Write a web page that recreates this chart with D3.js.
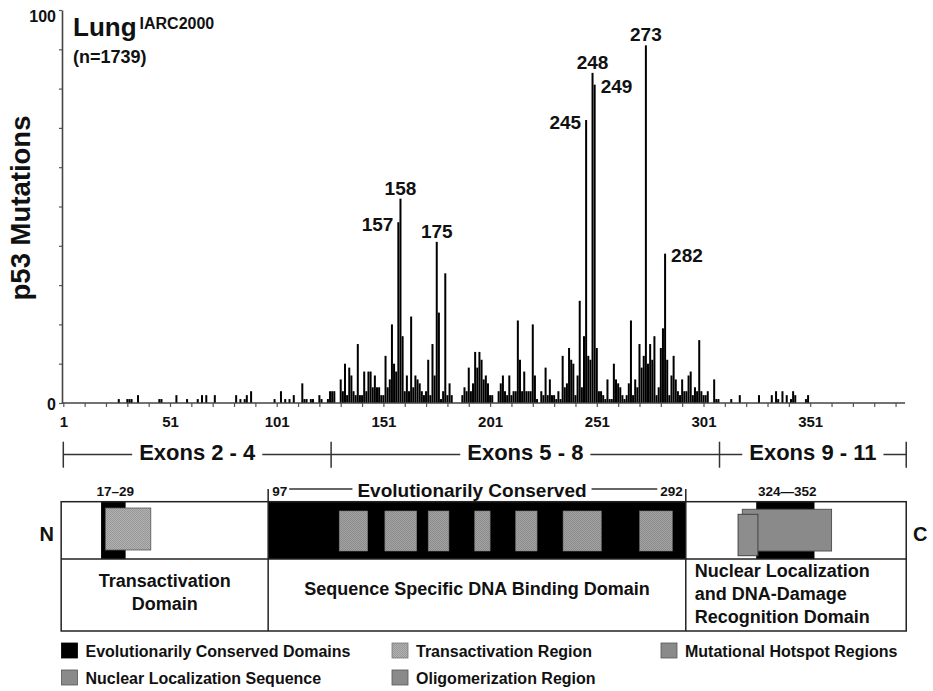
<!DOCTYPE html>
<html><head><meta charset="utf-8">
<script src="https://cdn.jsdelivr.net/npm/d3@7"></script>
<style>
body{margin:0;background:#fff}
svg{display:block}
text{font-family:"Liberation Sans",Arial,Helvetica,sans-serif;font-weight:bold;fill:#111}
</style>
</head><body>
<svg id="c" width="933" height="691"></svg>
<script>
// ---- data ----
const residues = [
  26,30,31,32,35,45,46,53,58,63,
  65,67,71,81,83,85,86,88,99,102,
  104,106,108,112,113,114,116,117,120,121,
  124,125,126,127,130,131,132,133,134,135,
  136,137,138,139,140,141,142,143,144,145,
  146,147,148,149,150,151,152,153,154,155,
  156,157,158,159,160,161,162,163,164,165,
  166,167,168,169,170,171,172,173,174,175,
  176,177,178,179,180,181,182,187,188,189,
  190,191,192,193,194,195,196,197,198,199,
  200,201,204,205,206,207,208,209,210,211,
  212,213,214,215,216,217,218,219,220,221,
  222,224,225,226,227,228,229,230,231,232,
  233,234,235,236,237,238,239,240,241,242,
  243,244,245,246,247,248,249,250,251,252,
  253,254,255,256,257,258,259,260,261,262,
  263,264,265,266,267,268,269,270,271,272,
  273,274,275,276,277,278,279,280,281,282,
  283,284,285,286,287,288,289,290,291,292,
  293,294,295,296,297,298,299,300,301,302,
  305,306,307,313,317,326,332,334,335,337,
  339,341,342,343,348,349
];
const mutations = [
  1,1,1,1,2,1,1,2,1,1,
  2,2,2,2,1,1,2,3,1,3,
  1,1,2,5,1,1,1,1,2,1,
  1,3,3,3,6,3,10,2,9,7,
  3,2,15,2,2,8,3,8,8,4,
  7,4,4,2,2,12,4,6,20,10,
  8,46,52,17,3,7,3,22,4,7,
  6,5,3,2,3,11,2,15,7,41,
  23,1,3,33,2,5,2,2,4,3,
  9,3,5,13,9,13,11,6,7,5,
  2,2,3,5,7,3,2,7,2,3,
  3,21,11,3,8,3,3,3,20,7,
  1,3,2,9,2,6,2,2,1,3,
  1,12,4,5,14,11,10,2,7,26,
  4,17,72,12,11,84,81,14,3,3,
  2,1,6,1,1,10,6,5,4,2,
  1,2,5,21,2,6,4,15,9,12,
  91,10,15,11,17,2,4,14,19,38,
  11,2,7,12,6,3,2,6,3,3,
  7,8,2,4,3,16,3,2,2,3,
  6,1,1,1,2,2,2,3,1,3,
  2,1,3,2,1,2
];
const peakLabels = [157,158,175,245,248,249,273,282];
const peakSides  = ["left","center","center","left","center","right","center","right"];
const xTickValues = d3.range(0, 391, 10);
const xTickLabels = ["1","51","101","151","201","251","301","351"];
const yTickLabels = ["0","100"];

const exonLabels = ["Exons 2 - 4","Exons 5 - 8","Exons 9 - 11"];
const exonBounds = [0, 125.5, 307.5, 395];

const domainBounds = [-1, 96, 291.7, 395];
const domainTexts = [["Transactivation","Domain"],["Sequence Specific DNA Binding Domain"],["Nuclear Localization","and DNA-Damage","Recognition Domain"]];

const conservedRegions = [[17.7,29.2],[96,291.7],[324.7,352]];
const conservedLabels = ["17\u201329","","324\u2014352"];
const transactivationRegions = [[19.7,41]];
const hotspotRegions = [[129.3,142.6],[150.7,165.6],[171,180.7],[192.8,200],[212,222],[234.2,252.1],[270.1,285.4]];
const oligomerizationRegions = [[318.2,360]];
const nlsRegions = [[316.2,325.5]];

const legendLabels = ["Evolutionarily Conserved Domains","Transactivation Region","Mutational Hotspot Regions","Nuclear Localization Sequence","Oligomerization Region"];

// ---- drawing ----
const svg = d3.select("#c");
svg.append("rect").attr("width",933).attr("height",691).attr("fill","#fff");

const defs = svg.append("defs");
function stipple(id, a, b){
  const p = defs.append("pattern").attr("id",id).attr("width",2).attr("height",2).attr("patternUnits","userSpaceOnUse");
  p.append("rect").attr("width",2).attr("height",2).attr("fill",a);
  p.append("rect").attr("width",1).attr("height",1).attr("fill",b);
  p.append("rect").attr("x",1).attr("y",1).attr("width",1).attr("height",1).attr("fill",b);
}
stipple("stTA","#b2b2b2","#979797");
stipple("stHS","#a4a4a4","#8a8a8a");

const x = d3.scaleLinear().domain([0,394]).range([63.3, 63.3+394*2.134]);
const y = d3.scaleLinear().domain([0,100]).range([403,10]);

const data = residues.map((r,i)=>({r, v:mutations[i]}));

// bars
svg.append("g").selectAll("rect").data(data).join("rect")
  .attr("x", d=>x(d.r)-1.0).attr("width",2.0)
  .attr("y", d=>y(d.v)).attr("height", d=>y(0)-y(d.v))
  .attr("fill","#000");

// x axis
const gx = svg.append("g").attr("transform",`translate(0,${y(0)})`)
  .call(d3.axisBottom(x).tickValues(xTickValues).tickSize(4).tickSizeOuter(0)
    .tickFormat(d => d%50===0 ? xTickLabels[d/50] : ""));
gx.select(".domain").remove();
gx.append("line").attr("x1",x(0)-1.5).attr("x2",x(394)+1).attr("stroke","#444").attr("stroke-width",1.6);
gx.selectAll(".tick line").attr("stroke","#555").attr("stroke-width",1.2);
gx.selectAll(".tick text").attr("y",13).attr("dy","0.71em").style("font-size","15px");

// y axis
const gy = svg.append("g").attr("transform",`translate(${x(0)-1.3},0)`)
  .call(d3.axisLeft(y).tickValues(d3.range(0,101,10)).tickSize(3).tickSizeOuter(0)
    .tickFormat(d => yTickLabels.includes(String(d)) ? String(d) : ""));
gy.select(".domain").attr("stroke","#444").attr("stroke-width",1.6);
gy.selectAll(".tick line").attr("stroke","#555").attr("stroke-width",1.2);
gy.selectAll(".tick text").attr("x",-6).style("font-size","16px")
  .attr("dy", d => d===100 ? "0.72em" : "0.4em");

svg.append("text").attr("transform","translate(30,208) rotate(-90)")
  .attr("text-anchor","middle").style("font-size","27.5px").text("p53 Mutations");

// title
const t = svg.append("text").attr("x",73).attr("y",36).style("font-size","26px").text("Lung");
t.append("tspan").attr("dx",3).attr("dy",-7).style("font-size","16px").text("IARC2000");
svg.append("text").attr("x",73).attr("y",63).style("font-size","18px").text("(n=1739)");

// peak labels
peakLabels.forEach((p,i)=>{
  const v = mutations[residues.indexOf(p)];
  const top = y(v), side = peakSides[i];
  const tx = svg.append("text").style("font-size","19px").text(p);
  if (side==="center") tx.attr("x",x(p)).attr("y",top-4).attr("text-anchor","middle");
  else if (side==="left") tx.attr("x",x(p)-5).attr("y",top+9).attr("text-anchor","end");
  else tx.attr("x",x(p)+6).attr("y",top+8).attr("text-anchor","start");
});

// exon row
const ey = 454.5;
const ge = svg.append("g").attr("stroke","#333").attr("stroke-width",1.5);
exonBounds.forEach(b=>{
  ge.append("line").attr("x1",x(b)).attr("x2",x(b)).attr("y1",441.7).attr("y2",467.7);
});
exonLabels.forEach((lab,i)=>{
  const x0 = x(exonBounds[i]), x1 = x(exonBounds[i+1]), cx=(x0+x1)/2;
  const tt = svg.append("text").attr("x",cx).attr("y",460).attr("text-anchor","middle").style("font-size","22px").text(lab);
  const w = tt.node().getComputedTextLength();
  ge.append("line").attr("x1",x0).attr("x2",cx-w/2-7).attr("y1",ey).attr("y2",ey);
  ge.append("line").attr("x1",cx+w/2+7).attr("x2",x1).attr("y1",ey).attr("y2",ey);
});

// domain diagram
const boxTop=501.7, boxMid=559, boxBot=631;
const gd = svg.append("g");
conservedRegions.forEach(r=>{
  gd.append("rect").attr("x",x(r[0])).attr("width",x(r[1])-x(r[0]))
    .attr("y",boxTop).attr("height",boxMid-boxTop).attr("fill","#000");
});
transactivationRegions.forEach(r=>{
  gd.append("rect").attr("x",x(r[0])).attr("width",x(r[1])-x(r[0]))
    .attr("y",508).attr("height",42).attr("fill","url(#stTA)").attr("stroke","#555").attr("stroke-width",0.8);
});
hotspotRegions.forEach(r=>{
  gd.append("rect").attr("x",x(r[0])).attr("width",x(r[1])-x(r[0]))
    .attr("y",511).attr("height",40).attr("fill","url(#stHS)").attr("stroke","#777").attr("stroke-width",0.6);
});
oligomerizationRegions.forEach(r=>{
  gd.append("rect").attr("x",x(r[0])).attr("width",x(r[1])-x(r[0]))
    .attr("y",509.3).attr("height",41.7).attr("fill","#8a8a8a").attr("stroke","#555").attr("stroke-width",1);
});
nlsRegions.forEach(r=>{
  gd.append("rect").attr("x",x(r[0])).attr("width",x(r[1])-x(r[0]))
    .attr("y",514.3).attr("height",41.4).attr("fill","#8d8d8d").attr("stroke","#444").attr("stroke-width",1);
});
// outlines
const ol = svg.append("g").attr("stroke","#222").attr("stroke-width",1.5).attr("fill","none");
ol.append("rect").attr("x",x(domainBounds[0])).attr("y",boxTop)
  .attr("width",x(domainBounds[3])-x(domainBounds[0])).attr("height",boxBot-boxTop);
ol.append("line").attr("x1",x(domainBounds[0])).attr("x2",x(domainBounds[3])).attr("y1",boxMid).attr("y2",boxMid);
[domainBounds[1],domainBounds[2]].forEach(b=>{
  ol.append("line").attr("x1",x(b)).attr("x2",x(b)).attr("y1",boxTop).attr("y2",boxBot);
  ol.append("line").attr("x1",x(b)).attr("x2",x(b)).attr("y1",489).attr("y2",boxTop);
});

// conserved labels
conservedLabels.forEach((lab,i)=>{
  if(!lab) return;
  const r = conservedRegions[i];
  svg.append("text").attr("x",(x(r[0])+x(r[1]))/2+2).attr("y",496).attr("text-anchor","middle").style("font-size","13.5px").text(lab);
});
const dbd = conservedRegions[1];
const l97 = svg.append("text").attr("x",x(dbd[0])+4).attr("y",496).style("font-size","13.5px").text("97");
const l292 = svg.append("text").attr("x",x(dbd[1])-3).attr("y",496).attr("text-anchor","end").style("font-size","13.5px").text("292");
const ec = svg.append("text").attr("x",472).attr("y",497).attr("text-anchor","middle").style("font-size","19px").text("Evolutionarily Conserved");
{
  const b97 = l97.node().getBBox(), b292 = l292.node().getBBox(), bec = ec.node().getBBox();
  const g = svg.append("g").attr("stroke","#333").attr("stroke-width",1.3);
  g.append("line").attr("x1",b97.x+b97.width+2).attr("x2",bec.x-5).attr("y1",489).attr("y2",489);
  g.append("line").attr("x1",bec.x+bec.width+5).attr("x2",b292.x-3).attr("y1",489).attr("y2",489);
}

svg.append("text").attr("x",54).attr("y",541).attr("text-anchor","end").style("font-size","20px").text("N");
svg.append("text").attr("x",913).attr("y",541).style("font-size","20px").text("C");

// domain text
const firstBase = [586.5, 595, 577];
domainTexts.forEach((lines,i)=>{
  const x0 = x(domainBounds[i]), x1 = x(domainBounds[i+1]);
  const anchor = i===2 ? "start" : "middle";
  const tx = i===2 ? x0+9 : (x0+x1)/2;
  lines.forEach((ln,j)=>{
    svg.append("text").attr("x",tx).attr("y",firstBase[i]+j*23).attr("text-anchor",anchor).style("font-size","18px").text(ln);
  });
});

// legend
const legFills = ["#000","url(#stTA)","#8a8a8a","#8a8a8a","#8a8a8a"];
const legStroke = ["#000","#777","#555","#555","#555"];
const legCol = [61.5, 392, 661, 61.5, 392];
const legRow = [643, 643, 643, 670, 670];
legendLabels.forEach((lab,i)=>{
  svg.append("rect").attr("x",legCol[i]).attr("y",legRow[i]).attr("width",16).attr("height",15)
    .attr("fill",legFills[i]).attr("stroke",legStroke[i]).attr("stroke-width",0.8);
  svg.append("text").attr("x",legCol[i]+24).attr("y",legRow[i]+14).style("font-size","16px").text(lab);
});
</script>
</body></html>
